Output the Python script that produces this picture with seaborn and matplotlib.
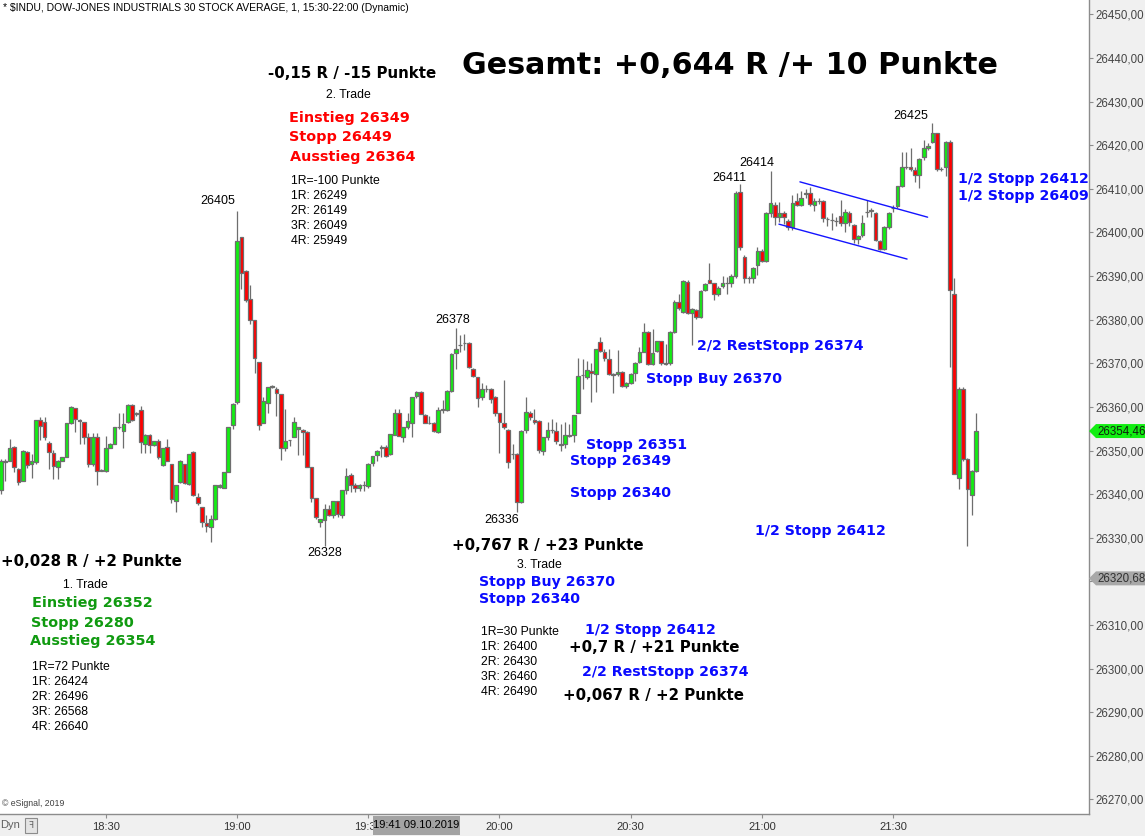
import matplotlib
matplotlib.use("Agg")
import matplotlib.pyplot as plt
from matplotlib.patches import Polygon, Rectangle
from matplotlib.transforms import IdentityTransform
import numpy as np
import pandas as pd
import seaborn as sns

# --- 1-minute bars of $INDU, 09.10.2019, 18:06 .. 21:49 -------------------
opens = [
    26341.0, 26347.5, 26347.7, 26350.8, 26345.7, 26343.0, 26349.6, 26347.0, 26347.3, 26357.0,
    26356.5, 26351.7, 26349.4, 26346.2, 26347.7, 26348.4, 26356.2, 26359.7, 26357.0, 26356.5,
    26353.0, 26347.0, 26353.0, 26345.4, 26345.3, 26350.6, 26351.6, 26355.3, 26354.5, 26356.5,
    26360.4, 26358.5, 26359.4, 26351.6, 26353.5, 26351.3, 26352.2, 26346.6, 26350.9, 26347.0,
    26338.4, 26342.8, 26346.8, 26342.3, 26349.6, 26339.4, 26337.1, 26333.3, 26332.5, 26334.2,
    26341.7, 26341.5, 26345.1, 26355.8, 26361.2, 26398.9, 26391.2, 26384.7, 26379.9, 26370.4,
    26356.4, 26361.0, 26364.6, 26364.1, 26362.9, 26350.6, 26352.3, 26353.2, 26355.0, 26354.8,
    26354.2, 26346.3, 26339.2, 26333.5, 26334.0, 26336.5, 26335.3, 26338.4, 26335.3, 26340.9,
    26344.4, 26342.0, 26341.3, 26342.2, 26341.8, 26347.2, 26348.9, 26350.5, 26350.9, 26349.2,
    26353.6, 26358.5, 26353.2, 26355.4, 26356.2, 26362.5, 26363.5, 26358.1, 26356.3, 26356.4,
    26354.3, 26359.3, 26359.4, 26363.7, 26372.3, 26374.2, 26374.6, 26374.7, 26368.8, 26366.8,
    26362.2, 26364.0, 26364.0, 26362.2, 26358.5, 26356.2, 26354.8, 26349.2, 26349.2, 26338.2,
    26354.7, 26358.7, 26357.1, 26356.8, 26350.0, 26353.0, 26354.7, 26354.5, 26351.6, 26351.5,
    26353.6, 26353.5, 26358.7, 26367.3, 26366.8, 26368.3, 26367.5, 26374.9, 26372.7, 26370.9,
    26367.5, 26367.5, 26368.0, 26364.8, 26365.5, 26367.8, 26370.4, 26372.7, 26377.2, 26369.8,
    26372.9, 26375.0, 26370.0, 26370.0, 26377.2, 26384.1, 26381.8, 26388.7, 26381.6, 26382.2,
    26380.5, 26386.8, 26389.0, 26388.3, 26385.9, 26387.7, 26388.5, 26388.5, 26389.9, 26409.3,
    26394.3, 26389.5, 26389.5, 26392.5, 26395.8, 26393.5, 26404.4, 26406.3, 26403.6, 26404.5,
    26402.7, 26401.2, 26407.3, 26406.3, 26408.9, 26409.0, 26406.3, 26407.3, 26407.3, 26403.0,
    26402.8, 26402.7, 26403.8, 26402.1, 26404.5, 26401.7, 26398.6, 26399.4, 26404.8, 26405.0,
    26404.5, 26398.1, 26396.3, 26401.2, 26405.5, 26406.1, 26410.6, 26415.1, 26415.1, 26414.3,
    26413.2, 26417.2, 26419.3, 26420.8, 26422.7, 26414.5, 26415.1, 26420.8, 26385.8, 26343.8,
    26364.0, 26348.0, 26339.9, 26345.4,
]
highs = [
    26348.0, 26348.0, 26352.6, 26351.0, 26346.0, 26350.2, 26350.0, 26349.2, 26357.0, 26357.7,
    26357.7, 26352.2, 26350.2, 26347.8, 26348.5, 26356.4, 26360.2, 26359.8, 26357.2, 26356.5,
    26354.1, 26354.1, 26353.9, 26345.7, 26353.4, 26351.7, 26355.3, 26358.7, 26358.7, 26360.6,
    26360.6, 26358.8, 26360.2, 26353.7, 26353.7, 26352.2, 26352.6, 26350.5, 26352.6, 26347.0,
    26342.0, 26347.8, 26347.0, 26349.2, 26349.8, 26340.3, 26337.1, 26335.2, 26335.2, 26342.0,
    26342.3, 26345.0, 26355.4, 26360.8, 26405.0, 26399.0, 26391.4, 26388.0, 26380.0, 26370.4,
    26362.3, 26364.6, 26365.0, 26364.5, 26362.9, 26359.6, 26352.5, 26357.6, 26355.5, 26355.0,
    26354.5, 26346.3, 26339.2, 26334.3, 26337.8, 26337.5, 26338.5, 26338.5, 26341.0, 26346.1,
    26344.8, 26342.5, 26342.3, 26343.0, 26347.2, 26348.8, 26350.1, 26351.2, 26351.2, 26353.7,
    26359.6, 26359.6, 26355.3, 26358.5, 26362.2, 26363.7, 26363.6, 26358.3, 26358.0, 26356.5,
    26360.0, 26361.5, 26363.9, 26372.3, 26378.0, 26376.5, 26376.6, 26374.9, 26369.0, 26366.9,
    26365.5, 26365.0, 26364.3, 26362.5, 26358.7, 26366.2, 26355.0, 26351.6, 26349.4, 26354.6,
    26362.3, 26359.0, 26359.6, 26357.0, 26353.2, 26356.5, 26357.3, 26356.5, 26356.0, 26356.5,
    26356.0, 26358.1, 26371.2, 26370.9, 26370.5, 26370.0, 26373.2, 26376.0, 26373.2, 26373.2,
    26367.8, 26373.0, 26368.2, 26365.6, 26367.7, 26370.3, 26373.8, 26379.2, 26377.4, 26377.8,
    26375.2, 26375.2, 26374.5, 26377.5, 26384.5, 26386.0, 26389.1, 26389.0, 26382.6, 26382.5,
    26386.8, 26388.3, 26393.0, 26388.5, 26387.8, 26390.0, 26389.8, 26390.5, 26409.5, 26411.0,
    26394.8, 26390.0, 26392.0, 26396.7, 26396.2, 26404.6, 26414.0, 26407.0, 26407.0, 26405.0,
    26403.0, 26408.5, 26409.0, 26409.5, 26410.0, 26410.5, 26408.0, 26408.0, 26407.5, 26403.5,
    26404.4, 26403.5, 26407.4, 26405.3, 26405.0, 26402.0, 26399.5, 26404.0, 26407.4, 26405.5,
    26404.8, 26398.3, 26401.5, 26404.6, 26406.3, 26410.6, 26418.5, 26418.5, 26419.3, 26415.0,
    26417.0, 26421.2, 26420.5, 26425.0, 26422.8, 26415.0, 26421.0, 26421.3, 26389.5, 26364.5,
    26364.5, 26348.3, 26345.6, 26358.5,
]
lows = [
    26340.0, 26343.0, 26347.5, 26345.0, 26342.0, 26343.0, 26346.0, 26343.6, 26347.0, 26352.4,
    26352.4, 26345.7, 26343.4, 26343.5, 26347.5, 26348.4, 26356.0, 26354.3, 26351.6, 26351.6,
    26346.3, 26346.4, 26342.0, 26345.2, 26345.1, 26350.5, 26351.5, 26355.0, 26350.5, 26356.3,
    26356.8, 26358.0, 26349.4, 26349.5, 26349.5, 26351.0, 26348.1, 26346.5, 26347.5, 26337.9,
    26335.8, 26342.6, 26342.4, 26342.0, 26339.5, 26337.5, 26332.5, 26331.2, 26329.0, 26334.0,
    26341.5, 26341.3, 26345.0, 26355.0, 26360.7, 26387.0, 26384.0, 26379.1, 26367.8, 26354.8,
    26356.3, 26358.5, 26364.4, 26358.0, 26347.8, 26350.0, 26351.0, 26353.0, 26349.0, 26349.0,
    26346.3, 26338.3, 26334.3, 26332.5, 26328.0, 26335.0, 26334.5, 26334.7, 26334.5, 26340.0,
    26340.5, 26340.5, 26340.8, 26340.8, 26341.5, 26346.5, 26347.5, 26348.5, 26348.5, 26349.0,
    26353.5, 26353.3, 26352.0, 26355.0, 26353.2, 26362.0, 26358.3, 26356.2, 26356.0, 26354.2,
    26354.0, 26358.5, 26359.0, 26363.5, 26368.8, 26372.5, 26373.0, 26369.0, 26366.8, 26360.0,
    26361.5, 26363.5, 26361.0, 26358.0, 26349.5, 26355.0, 26346.0, 26348.0, 26336.0, 26338.0,
    26354.0, 26357.0, 26356.0, 26349.5, 26349.0, 26352.5, 26354.0, 26351.5, 26350.0, 26350.5,
    26353.0, 26352.0, 26358.5, 26364.0, 26366.5, 26361.2, 26363.3, 26372.5, 26370.5, 26367.3,
    26363.1, 26367.0, 26364.5, 26364.4, 26365.3, 26366.0, 26370.0, 26372.5, 26369.5, 26369.5,
    26372.5, 26369.5, 26369.5, 26369.5, 26377.0, 26382.3, 26381.5, 26381.3, 26374.2, 26380.2,
    26380.3, 26386.5, 26388.3, 26384.5, 26385.5, 26387.2, 26385.9, 26387.5, 26389.5, 26396.0,
    26388.3, 26388.5, 26388.5, 26390.3, 26393.3, 26393.3, 26403.6, 26401.7, 26402.5, 26402.0,
    26400.5, 26400.5, 26406.0, 26406.0, 26408.0, 26406.0, 26405.0, 26406.5, 26402.5, 26401.5,
    26400.5, 26401.5, 26401.5, 26400.0, 26401.5, 26397.5, 26397.4, 26399.0, 26403.5, 26403.5,
    26398.0, 26396.0, 26396.0, 26400.8, 26404.8, 26405.5, 26410.5, 26414.5, 26414.0, 26411.5,
    26410.1, 26416.5, 26419.0, 26420.5, 26414.0, 26414.2, 26413.0, 26369.2, 26344.5, 26341.1,
    26347.5, 26328.1, 26335.2, 26345.0,
]
closes = [
    26347.5, 26347.3, 26350.5, 26346.2, 26342.8, 26350.0, 26346.7, 26347.5, 26357.0, 26355.6,
    26353.0, 26349.6, 26346.5, 26347.5, 26348.4, 26356.2, 26359.9, 26357.2, 26356.7, 26353.2,
    26347.0, 26353.0, 26345.4, 26345.5, 26350.5, 26351.6, 26355.3, 26355.5, 26356.0, 26360.4,
    26357.0, 26358.3, 26351.9, 26353.5, 26351.3, 26352.2, 26348.5, 26350.5, 26347.6, 26338.9,
    26342.0, 26347.6, 26342.5, 26349.1, 26339.7, 26337.9, 26333.5, 26332.8, 26334.2, 26342.0,
    26342.0, 26345.0, 26355.4, 26360.7, 26398.0, 26390.8, 26384.4, 26380.0, 26371.1, 26355.8,
    26361.3, 26364.6, 26364.9, 26363.1, 26350.6, 26352.2, 26352.5, 26356.6, 26355.4, 26354.3,
    26346.3, 26339.2, 26334.7, 26334.2, 26336.7, 26335.2, 26338.4, 26335.5, 26341.0, 26344.2,
    26342.0, 26341.3, 26342.2, 26342.0, 26347.0, 26348.7, 26349.9, 26350.9, 26348.8, 26353.7,
    26358.5, 26353.4, 26355.3, 26356.8, 26362.2, 26363.5, 26358.4, 26356.4, 26356.2, 26354.5,
    26359.4, 26359.6, 26363.7, 26372.1, 26373.2, 26374.3, 26374.7, 26369.2, 26367.1, 26362.0,
    26364.0, 26364.0, 26361.9, 26358.7, 26356.5, 26355.3, 26347.4, 26349.2, 26338.2, 26354.5,
    26358.9, 26357.6, 26356.6, 26350.1, 26353.0, 26354.7, 26354.7, 26352.1, 26351.3, 26353.6,
    26353.3, 26358.1, 26367.1, 26367.3, 26368.5, 26367.7, 26373.2, 26372.9, 26371.1, 26367.5,
    26367.3, 26368.0, 26364.8, 26365.4, 26367.5, 26370.1, 26372.7, 26377.2, 26369.8, 26372.4,
    26375.0, 26370.0, 26369.8, 26377.2, 26384.1, 26382.7, 26388.9, 26381.6, 26382.4, 26380.5,
    26386.6, 26388.1, 26388.5, 26385.9, 26387.2, 26388.5, 26388.5, 26389.9, 26409.1, 26396.6,
    26389.5, 26389.6, 26391.8, 26395.8, 26393.5, 26404.4, 26406.8, 26403.5, 26404.4, 26403.6,
    26401.2, 26406.8, 26406.3, 26408.0, 26409.0, 26406.5, 26407.3, 26407.2, 26403.2, 26403.0,
    26402.8, 26402.7, 26402.1, 26404.8, 26402.5, 26398.6, 26399.2, 26402.1, 26404.8, 26405.1,
    26398.3, 26396.3, 26401.2, 26404.4, 26405.6, 26410.6, 26415.1, 26415.1, 26414.5, 26413.2,
    26416.8, 26419.3, 26419.9, 26422.7, 26414.5, 26414.6, 26420.8, 26386.9, 26344.7, 26364.2,
    26348.0, 26341.1, 26345.4, 26354.46,
]

# time axis: bar number of each half-hour mark
time_labels = ["18:30", "19:00", "19:30", "20:00", "20:30", "21:00", "21:30"]
time_bars = [25, 55, 85, 115, 145, 175, 205]
price_ticks = list(range(26270, 26451, 10))

# descending channel drawn around 21:05 - 21:35
channel_upper_bars = [183.7, 212.9]
channel_upper_prices = [26411.6, 26403.5]
channel_lower_bars = [178.9, 208.2]
channel_lower_prices = [26401.9, 26393.9]

marker_price = 26320.68

# swing highs / lows carrying a price label: (bar, kind, dx, dy) offsets in pixels
swing_labels = [
    (55, "high", -19, 10), (105, "high", -3, 8), (170, "high", -11, 6),
    (177, "high", -14, 8), (214, "high", -22, 7), (75, "low", 0, -7),
    (119, "low", -15, -8),
]

W, H = 1145, 836
GREEN, RED, EDGE = "#12ee12", "#ff0000", "#6e6e6e"
BLUE, TRED, TGREEN = "#0a0aff", "#ff0000", "#109a10"

sns.set_theme(style="white")
plt.rcParams["font.family"] = ["DejaVu Sans"]

fig = plt.figure(figsize=(W / 100, H / 100), dpi=100, facecolor="#f0f0f0")
ax = fig.add_axes([0, 22 / H, 1089 / W, 814 / H])
ax.set_facecolor("white")

bars = pd.DataFrame({
    "bar": np.arange(1, len(closes) + 1),
    "open": opens, "high": highs, "low": lows, "close": closes,
})
rising = bars["close"] >= bars["open"]
body_lo = np.minimum(bars["open"], bars["close"])
body_h = (bars["close"] - bars["open"]).abs()

ax.vlines(bars["bar"], bars["low"], bars["high"], color=EDGE, lw=0.9, zorder=2)
ax.bar(bars["bar"], body_h, bottom=body_lo, width=0.84,
       color=np.where(rising, GREEN, RED), edgecolor=EDGE, linewidth=0.9, zorder=3)

channel = pd.DataFrame({
    "bar": channel_upper_bars + channel_lower_bars,
    "price": channel_upper_prices + channel_lower_prices,
    "line": ["upper", "upper", "lower", "lower"],
})
sns.lineplot(data=channel, x="bar", y="price", units="line", estimator=None,
             color="#1414ff", lw=1.0, ax=ax, legend=False, zorder=4)
ax.set_xlabel("")
ax.set_ylabel("")

ax.set_xlim(0.794, 249.8)
ax.set_ylim(26266.65, 26453.3)

for side in ("top", "left"):
    ax.spines[side].set_visible(False)
for side in ("right", "bottom"):
    ax.spines[side].set_visible(True)
    ax.spines[side].set_color("#8c8c8c")
    ax.spines[side].set_linewidth(1.0)

# the level under the marker tag is covered by the tag itself
ax.yaxis.tick_right()
ax.set_yticks(price_ticks)
ax.set_yticklabels(["" if abs(p - marker_price) < 3 else f"{p:.2f}".replace(".", ",")
                    for p in price_ticks],
                   family="Liberation Sans", fontsize=8.3, color="#454545")
ax.tick_params(axis="y", which="both", direction="out", length=3, width=0.8,
               color="#8c8c8c", pad=1.5, right=True, left=False)
ax.set_xticks(time_bars)
ax.set_xticklabels(time_labels, family="Liberation Sans", fontsize=8, color="#333333")
ax.tick_params(axis="x", direction="out", length=3, width=0.8, color="#8c8c8c",
               pad=3, bottom=True)
ax.grid(False)

# swing labels
for bar, kind, dx, dy in swing_labels:
    val = highs[bar - 1] if kind == "high" else lows[bar - 1]
    ax.annotate(f"{val:.0f}", xy=(bar, val), xytext=(dx, dy), textcoords="offset pixels",
                ha="center", va="center", fontsize=9, family="Liberation Sans",
                color="black", zorder=6)

# trade notes
BIG = dict(weight="bold", fontsize=10.8, color="black")
SMALL = dict(family="Liberation Sans", fontsize=8.8, color="black")


def note(s, px, py, **kw):
    fig.text(px / W, 1 - py / H, s, ha="left", va="center", **kw)


note("Gesamt: +0,644 R /+ 10 Punkte", 462, 66, weight="heavy", fontsize=21.7, color="black")

note("-0,15 R / -15 Punkte", 268, 74, **BIG)
note("2. Trade", 326, 95, **SMALL)
note("Einstieg 26349", 289, 118, weight="bold", fontsize=10.4, color=TRED)
note("Stopp 26449", 289, 137, weight="bold", fontsize=10.4, color=TRED)
note("Ausstieg 26364", 290, 157, weight="bold", fontsize=10.4, color=TRED)
for i, s in enumerate(["1R=-100 Punkte", "1R: 26249", "2R: 26149", "3R: 26049", "4R: 25949"]):
    note(s, 291, 181 + 15 * i, **SMALL)

note("+0,028 R / +2 Punkte", 1, 562, **BIG)
note("1. Trade", 63, 585, **SMALL)
note("Einstieg 26352", 32, 603, weight="bold", fontsize=10.4, color=TGREEN)
note("Stopp 26280", 31, 623, weight="bold", fontsize=10.4, color=TGREEN)
note("Ausstieg 26354", 30, 641, weight="bold", fontsize=10.4, color=TGREEN)
for i, s in enumerate(["1R=72 Punkte", "1R: 26424", "2R: 26496", "3R: 26568", "4R: 26640"]):
    note(s, 32, 667 + 15 * i, **SMALL)

note("+0,767 R / +23 Punkte", 452, 546, **BIG)
note("3. Trade", 517, 565, **SMALL)
for i, s in enumerate(["1R=30 Punkte", "1R: 26400", "2R: 26430", "3R: 26460", "4R: 26490"]):
    note(s, 481, 632 + 15 * i, **SMALL)
note("+0,7 R / +21 Punkte", 569, 648, **BIG)
note("+0,067 R / +2 Punkte", 563, 696, **BIG)

BL = dict(weight="bold", fontsize=10.2, color=BLUE)
for s, px, py in [
    ("1/2 Stopp 26412", 958, 179), ("1/2 Stopp 26409", 958, 196),
    ("2/2 RestStopp 26374", 697, 346), ("Stopp Buy 26370", 646, 379),
    ("Stopp 26351", 586, 445), ("Stopp 26349", 570, 461), ("Stopp 26340", 570, 493),
    ("1/2 Stopp 26412", 755, 531), ("Stopp Buy 26370", 479, 582),
    ("Stopp 26340", 479, 599), ("1/2 Stopp 26412", 585, 630),
    ("2/2 RestStopp 26374", 582, 672),
]:
    note(s, px, py, **BL)

# header and footer texts
note("* $INDU, DOW-JONES INDUSTRIALS 30 STOCK AVERAGE, 1, 15:30-22:00 (Dynamic)", 3, 8,
     family="Liberation Sans", fontsize=7.5, color="black")
note("© eSignal, 2019", 2, 804, family="Liberation Sans", fontsize=6.3, color="#404040")
note("Dyn", 0, 825, family="Liberation Sans", fontsize=8, color="#606060")
fig.add_artist(Rectangle((25, 3), 12, 15, transform=IdentityTransform(), facecolor="#e4e4e4",
                         edgecolor="#8c8c8c", lw=0.8, zorder=3))
fig.text(31, 10.5, "ꟻ", transform=IdentityTransform(), ha="center", va="center",
         fontsize=6.5, color="#606060", family="DejaVu Sans", zorder=4)

# cursor time box on the time axis
fig.add_artist(Rectangle((373, 1), 87, 19, transform=IdentityTransform(),
                         facecolor="#a3a3a3", edgecolor="none", zorder=3))
fig.text(416.5, 10.5, "19:41 09.10.2019", transform=IdentityTransform(), ha="center",
         va="center", family="Liberation Sans", fontsize=8, color="black", zorder=4)


def price_tag(price, face, text_color):
    y = ax.transData.transform((1, price))[1]
    x0 = ax.transAxes.transform((1, 0))[0]
    pts = [(x0, y), (x0 + 7, y + 7), (W, y + 7), (W, y - 7), (x0 + 7, y - 7)]
    fig.add_artist(Polygon(pts, closed=True, transform=IdentityTransform(), facecolor=face,
                           edgecolor="none", zorder=3))
    fig.text(x0 + 8, y, f"{price:.2f}".replace(".", ","), transform=IdentityTransform(),
             ha="left", va="center", family="Liberation Sans", fontsize=8.3,
             color=text_color, zorder=4)


price_tag(closes[-1], GREEN, "#102010")
price_tag(marker_price, "#a8a8a8", "#303030")

fig.savefig("out.png", dpi=100, facecolor=fig.get_facecolor())
